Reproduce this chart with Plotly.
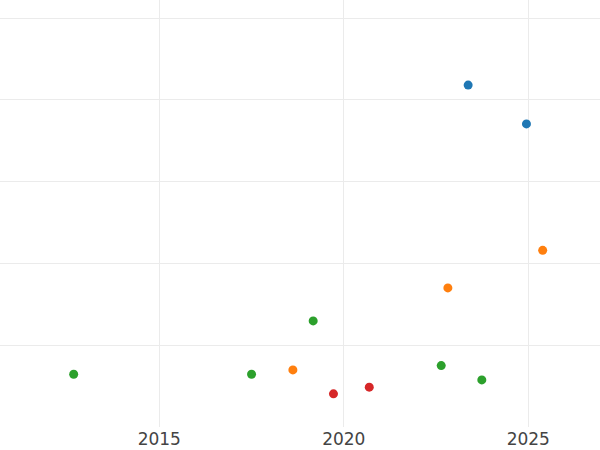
import plotly.graph_objects as go

blue_x = [2023.37, 2024.95]
blue_y = [41.8, 37.05]
orange_x = [2025.39, 2022.82, 2018.62]
orange_y = [21.6, 17.0, 6.98]
green_x = [2012.68, 2017.50, 2019.17, 2022.64, 2023.74]
green_y = [6.45, 6.45, 12.97, 7.51, 5.76]
red_x = [2019.72, 2020.69]
red_y = [4.05, 4.87]

series = [
    ("A", blue_x, blue_y, "#1f77b4"),
    ("B", orange_x, orange_y, "#ff7f0e"),
    ("C", green_x, green_y, "#2ca02c"),
    ("D", red_x, red_y, "#d62728"),
]

fig = go.Figure()
for name, xs, ys, c in series:
    fig.add_trace(go.Scatter(x=xs, y=ys, mode="markers", name=name,
                             marker=dict(color=c, size=9)))

fig.update_layout(
    width=600, height=450,
    margin=dict(l=0, r=0, t=0, b=23),
    paper_bgcolor="white", plot_bgcolor="white",
    showlegend=False,
    font=dict(family="DejaVu Sans", size=17, color="#444"),
)
fig.update_xaxes(range=[2010.683, 2026.943], tickvals=[2015, 2020, 2025],
                 ticktext=["2015", "2020", "2025"],
                 showgrid=True, gridcolor="#ebebeb", zeroline=False,
                 showline=False, automargin=False)
fig.update_yaxes(range=[0, 52.2], dtick=10, showticklabels=False,
                 showgrid=True, gridcolor="#ebebeb", zeroline=False,
                 showline=False, automargin=False)

fig.write_html("out.html", config={"displayModeBar": False},
               post_script="document.body.style.margin='0';document.body.style.overflow='hidden';")
